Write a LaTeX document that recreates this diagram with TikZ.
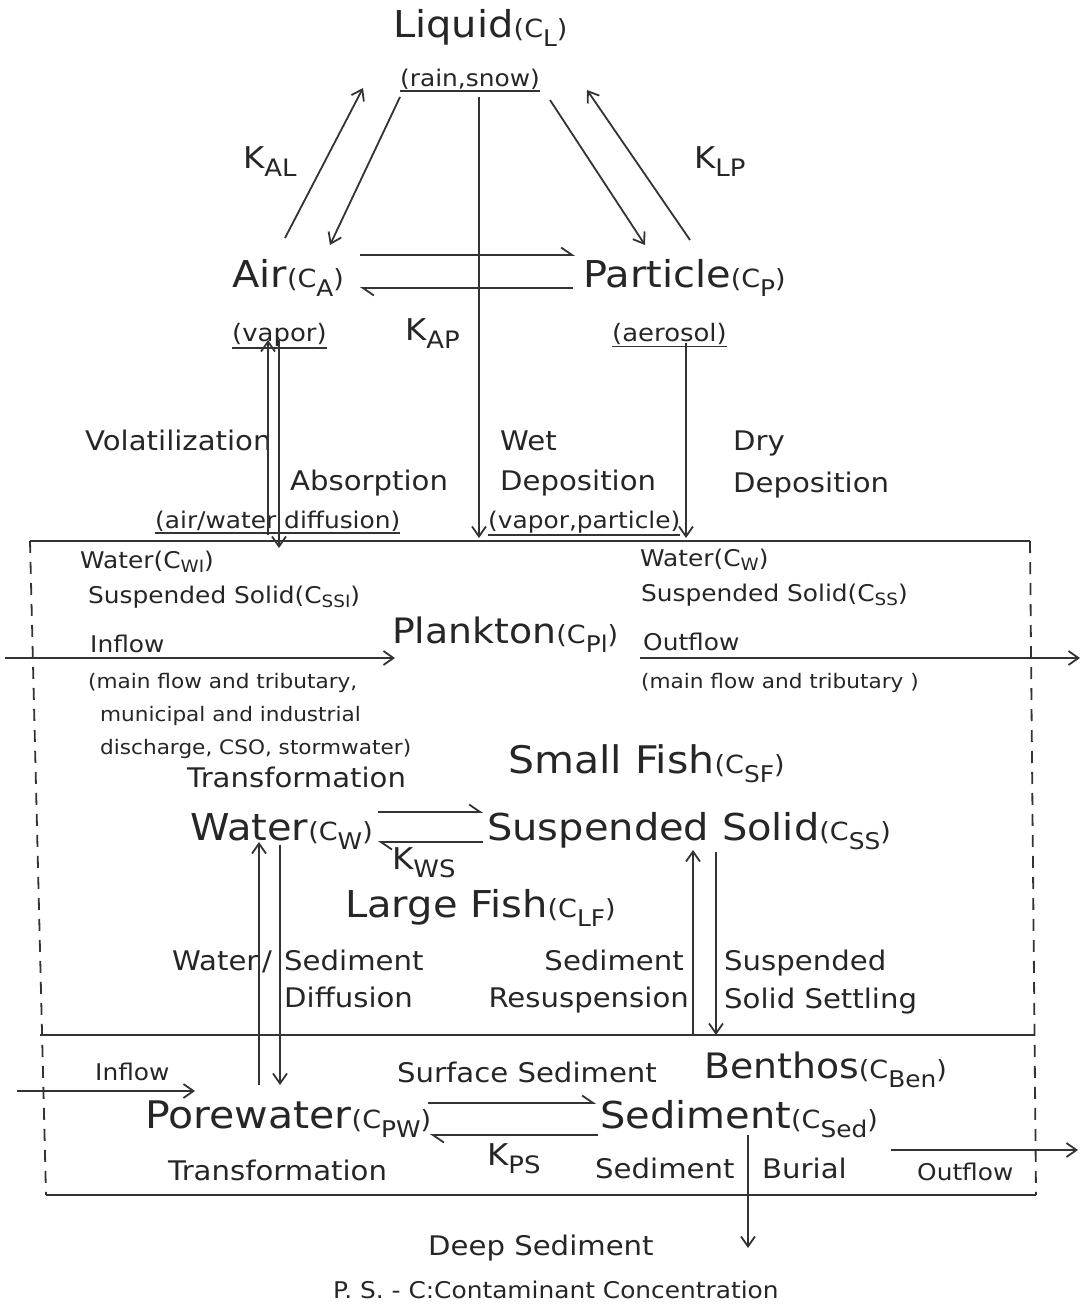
\documentclass[tikz,border=0pt]{standalone}
\usepackage{fontspec}
\setmainfont{DejaVu Sans}[FakeStretch=1.08]
\usetikzlibrary{arrows.meta}
\newcommand{\fsz}[1]{\fontsize{#1}{#1}\selectfont}
\newcommand{\bigc}[1]{{\fsz{25}(C\lower9pt\hbox{\fsz{23}#1})}}
\newcommand{\smc}[1]{(C\lower4pt\hbox{\fsz{17}#1})}
\newcommand{\kk}[1]{{\fsz{30}K\lower8pt\hbox{\fsz{24}#1}}}
\begin{document}
\begin{tikzpicture}[x=1pt,y=-1pt,
  txt/.style={inner sep=0pt, anchor=base west, text=black!85},
  big/.style={txt, font=\fsz{37}},
  med/.style={txt, font=\fsz{27}},
  sml/.style={txt, font=\fsz{23}},
  tiny/.style={txt, font=\fsz{20}},
  ln/.style={line width=1.8pt, draw=black!80},
  arr/.style={ln, -{Straight Barb[length=10pt,width=14pt]}},
  harp/.style={ln, -{Straight Barb[left,length=11pt,width=15pt]}},
  uline/.style={line width=1.5pt, draw=black!80},
  box/.style={line width=1.8pt, draw=black!80},
  dbox/.style={line width=1.8pt, draw=black!80, dash pattern=on 12pt off 9pt}]
\fill[white] (0,0) rectangle (1084,1306);
\useasboundingbox (0,0) rectangle (1084,1306);

% ---------- atmosphere ----------
\node[big] (liq) at (393,38) {Liquid\bigc{L}};
\node[sml] (rain) at (400,86) {(rain,snow)};
\node[txt] (kal) at (243,168) {\kk{AL}};
\node[txt] (klp) at (694,168) {\kk{LP}};
\node[big] (air) at (232,287) {Air\bigc{A}};
\node[big] (par) at (583,287) {Particle\bigc{P}};
\node[txt] (kap) at (405,340) {\kk{AP}};
\node[txt, font=\fsz{24}] (vap) at (232,341) {(vapor)};
\node[txt, font=\fsz{24}] (aer) at (612,341) {(aerosol)};
\node[med] (vol) at (85,450) {Volatilization};
\node[med] (abs) at (290,490) {Absorption};
\node[med] (wet) at (500,450) {Wet};
\node[med] (wdep) at (500,490) {Deposition};
\node[med] (dry) at (733,450) {Dry};
\node[med] (ddep) at (733,492) {Deposition};
\node[sml] (awd) at (155,528) {(air/water diffusion)};
\node[sml] (vp) at (488,528) {(vapor,particle)};

\foreach \n in {rain,vap,aer,awd,vp}
  \draw[uline] ([yshift=-2pt]\n.south west) -- ([yshift=-2pt]\n.south east);

\coordinate (a1) at (285,238); \coordinate (a2) at (363,88);
\coordinate (b1) at (400,97);  \coordinate (b2) at (330,245);
\coordinate (c1) at (550,100); \coordinate (c2) at (645,245);
\coordinate (d1) at (690,240); \coordinate (d2) at (587,90);
\coordinate (w1) at (479,97);  \coordinate (w2) at (479,538);
\coordinate (e1) at (360,255); \coordinate (e2) at (575,255);
\coordinate (f1) at (573,288); \coordinate (f2) at (360,288);
\coordinate (v1) at (268,535); \coordinate (v2) at (268,340);
\coordinate (ab1) at (279,340); \coordinate (ab2) at (279,548);
\coordinate (dr1) at (686,343); \coordinate (dr2) at (686,538);

\draw[arr] (a1) -- (a2);
\draw[arr] (b1) -- (b2);
\draw[arr] (c1) -- (c2);
\draw[arr] (d1) -- (d2);
\draw[arr] (w1) -- (w2);
\draw[harp] (e1) -- (e2);
\draw[harp] (f1) -- (f2);
\draw[arr] (v1) -- (v2);
\draw[arr] (ab1) -- (ab2);
\draw[arr] (dr1) -- (dr2);

% ---------- box ----------
\coordinate (tl) at (30,541);  \coordinate (tr) at (1030,541);
\coordinate (bl) at (46,1195); \coordinate (br) at (1036,1195);
\coordinate (ml) at (40,1035); \coordinate (mr) at (1034,1035);
\draw[box] (tl) -- (tr);
\draw[dbox] (tl) -- (bl);
\draw[dbox] (tr) -- (br);
\draw[box] (ml) -- (mr);
\draw[box] (bl) -- (br);

% ---------- water column ----------
\node[sml] (wi) at (80,568) {Water\smc{WI}};
\node[sml] (ssi) at (88,603) {Suspended Solid\smc{SSI}};
\node[sml] (inf) at (90,652) {Inflow};
\node[tiny] (m1) at (88,688) {(main flow and tributary,};
\node[tiny] (m2) at (100,721) {municipal and industrial};
\node[tiny] (m3) at (100,754) {discharge, CSO, stormwater)};
\node[med] (tr1) at (187,787) {Transformation};
\node[big, font=\fsz{35}] (pl) at (392,643) {Plankton\bigc{Pl}};
\node[sml] (wo) at (640,566) {Water\smc{W}};
\node[sml] (sso) at (641,601) {Suspended Solid\smc{SS}};
\node[sml] (outf) at (643,650) {Outflow};
\node[tiny] (m4) at (641,688) {(main flow and tributary )};
\node[big, font=\fsz{38}] (sf) at (508,773) {Small Fish\bigc{SF}};
\node[big] (wat) at (190,840) {Water\bigc{W}};
\node[big] (ss) at (487,840) {Suspended Solid\bigc{SS}};
\node[txt] (kws) at (392,869) {\kk{WS}};
\node[big] (lf) at (345,917) {Large Fish\bigc{LF}};
\node[med] (wsl) at (172,970) {Water};
\node[med] (slash) at (262,970) {/};
\node[med] (sdl) at (284,970) {Sediment};
\node[med] (dif) at (284,1007) {Diffusion};
\node[med, anchor=base east] (sdr) at (684,970) {Sediment};
\node[med, anchor=base east] (res) at (689,1007) {Resuspension};
\node[med] (sus) at (724,970) {Suspended};
\node[med] (sset) at (724,1008) {Solid Settling};

\coordinate (i1) at (5,658);    \coordinate (i2) at (395,658);
\coordinate (o1) at (640,658);  \coordinate (o2) at (1080,658);
\coordinate (ws1) at (378,812); \coordinate (ws2) at (483,812);
\coordinate (sw1) at (483,842); \coordinate (sw2) at (378,842);
\coordinate (du1) at (259,1085); \coordinate (du2) at (259,842);
\coordinate (dd1) at (280,845); \coordinate (dd2) at (280,1085);
\coordinate (ru1) at (693,1035); \coordinate (ru2) at (693,850);
\coordinate (sd1) at (716,852); \coordinate (sd2) at (716,1035);

\draw[arr] (i1) -- (i2);
\draw[arr] (o1) -- (o2);
\draw[harp] (ws1) -- (ws2);
\draw[harp] (sw1) -- (sw2);
\draw[arr] (du1) -- (du2);
\draw[arr] (dd1) -- (dd2);
\draw[arr] (ru1) -- (ru2);
\draw[arr] (sd1) -- (sd2);

% ---------- sediment ----------
\node[sml] (inf2) at (95,1080) {Inflow};
\node[med] (surf) at (397,1082) {Surface Sediment};
\node[big, font=\fsz{35}] (ben) at (704,1078) {Benthos\bigc{Ben}};
\node[big, font=\fsz{38}] (pw) at (145,1128) {Porewater\bigc{PW}};
\node[big] (sed) at (600,1128) {Sediment\bigc{Sed}};
\node[txt] (kps) at (487,1165) {\kk{PS}};
\node[med] (tr2) at (168,1180) {Transformation};
\node[med] (sedb) at (595,1178) {Sediment};
\node[med] (bur) at (762,1178) {Burial};
\node[sml] (outf2) at (917,1180) {Outflow};
\node[med] (deep) at (428,1255) {Deep Sediment};
\node[txt, font=\fsz{23}] (ps) at (333,1298) {P. S. - C:Contaminant Concentration};

\coordinate (j1) at (17,1091);  \coordinate (j2) at (195,1091);
\coordinate (ps1) at (428,1103); \coordinate (ps2) at (596,1103);
\coordinate (sp1) at (598,1135); \coordinate (sp2) at (430,1135);
\coordinate (bu1) at (748,1135); \coordinate (bu2) at (748,1248);
\coordinate (q1) at (891,1150); \coordinate (q2) at (1078,1150);

\draw[arr] (j1) -- (j2);
\draw[harp] (ps1) -- (ps2);
\draw[harp] (sp1) -- (sp2);
\draw[arr] (bu1) -- (bu2);
\draw[arr] (q1) -- (q2);
\end{tikzpicture}
\end{document}
